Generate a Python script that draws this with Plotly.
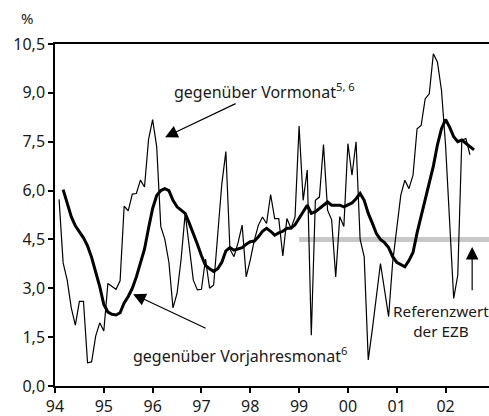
import plotly.graph_objects as go

# --- data -------------------------------------------------------------
# month-on-month change (annualised), monthly from Feb 1994
vormonat = [5.73, 3.78, 3.25, 2.4, 1.87, 2.6, 2.6, 0.71, 0.74, 1.53, 1.94,
            1.69, 3.15, 3.05, 2.97, 3.23, 5.52, 5.38, 5.89, 5.91, 6.32, 6.11, 7.57,
            8.18, 7.34, 4.9, 4.5, 3.8, 2.4, 2.84, 3.9, 5.3, 4.3, 3.25, 2.95,
            2.97, 3.9, 3.0, 3.1, 4.6, 6.2, 7.2, 4.2, 3.97, 4.4, 4.94, 3.35,
            3.87, 4.48, 4.94, 5.19, 4.99, 5.88, 5.14, 5.14, 3.99, 5.14, 4.84, 5.19,
            7.98, 5.7, 6.63, 1.56, 5.7, 5.8, 7.41, 5.4, 5.1, 3.35, 5.2, 4.9,
            7.44, 6.47, 7.5, 4.5, 3.97, 0.8, 1.74, 2.7, 3.76, 2.95, 2.13, 3.8,
            4.9, 5.86, 6.32, 6.06, 6.47, 7.9, 8.0, 8.82, 8.97, 10.2, 9.95, 9.08,
            7.4, 4.9, 2.69, 3.4, 7.55, 7.6, 7.1]
vormonat_start_month = 1  # months after Jan 1994

# change on the same month of the previous year, monthly from Mar 1994
vorjahr = [6.03, 5.6, 5.2, 4.92, 4.72, 4.55, 4.3, 3.95, 3.5, 3.05,
           2.5, 2.27, 2.2, 2.18, 2.25, 2.55, 2.75, 3.0, 3.35, 3.75, 4.2, 4.85,
           5.45, 5.85, 6.0, 6.06, 6.0, 5.7, 5.5, 5.4, 5.3, 5.0, 4.7, 4.35,
           4.0, 3.7, 3.6, 3.52, 3.6, 3.8, 4.15, 4.25, 4.17, 4.2, 4.25, 4.35,
           4.43, 4.45, 4.58, 4.75, 4.84, 4.75, 4.63, 4.7, 4.75, 4.84, 4.84, 4.95,
           5.15, 5.38, 5.55, 5.3, 5.35, 5.45, 5.55, 5.65, 5.55, 5.55, 5.55, 5.5,
           5.55, 5.62, 5.75, 5.91, 5.7, 5.3, 5.0, 4.68, 4.5, 4.4, 4.25, 3.97,
           3.8, 3.72, 3.66, 3.85, 4.1, 4.7, 5.2, 5.75, 6.25, 6.75, 7.4, 7.9,
           8.18, 7.95, 7.65, 7.5, 7.55, 7.45, 7.35, 7.25]
vorjahr_start_month = 2

# ECB reference value
referenzwert = 4.5
referenz_von = 1999.0
x_ende = 2002.89

year_ticks = [1994, 1995, 1996, 1997, 1998, 1999, 2000, 2001, 2002]
year_labels = ["94", "95", "96", "97", "98", "99", "00", "01", "02"]
y_ticks = [0, 1.5, 3.0, 4.5, 6.0, 7.5, 9.0, 10.5]
y_labels = ["0,0", "1,5", "3,0", "4,5", "6,0", "7,5", "9,0", "10,5"]

# ---------------------------------------------------------------------
def months_to_x(start, n):
    return [1994 + (start + i) / 12 for i in range(n)]

FONT = "Noto Sans"
TXT = "#1a1a1a"

fig = go.Figure()
fig.add_trace(go.Scatter(x=[referenz_von, x_ende], y=[referenzwert, referenzwert],
                         mode="lines", line=dict(color="#c8c8c8", width=5),
                         hoverinfo="skip"))
fig.add_trace(go.Scatter(x=months_to_x(vormonat_start_month, len(vormonat)), y=vormonat,
                         mode="lines", line=dict(color="black", width=1.2)))
fig.add_trace(go.Scatter(x=months_to_x(vorjahr_start_month, len(vorjahr)), y=vorjahr,
                         mode="lines", line=dict(color="black", width=3)))

arrow = dict(showarrow=True, arrowhead=2, arrowsize=2.1, arrowwidth=1.2,
             arrowcolor="black", axref="x", ayref="y", xref="x", yref="y",
             text="", standoff=0)
fig.add_annotation(x=1996.255, y=7.64, ax=1997.73, ay=8.69, **arrow)
fig.add_annotation(x=1995.6, y=2.82, ax=1997.117, ay=1.75, **arrow)
fig.add_annotation(x=2002.545, y=4.27, ax=2002.545, ay=2.89, **arrow)

fig.add_annotation(x=1996.40, y=9.06, xref="x", yref="y", xanchor="left", yanchor="middle",
                   text="gegenüber Vormonat<sup>5, 6</sup>", showarrow=False,
                   font=dict(family=FONT, size=16, color=TXT))
fig.add_annotation(x=1995.56, y=0.95, xref="x", yref="y", xanchor="left", yanchor="middle",
                   text="gegenüber Vorjahresmonat<sup>6</sup>", showarrow=False,
                   font=dict(family=FONT, size=16, color=TXT))
fig.add_annotation(x=2001.905, y=2.0, xref="x", yref="y", xanchor="center", yanchor="middle",
                   text="Referenzwert<br>der EZB", showarrow=False,
                   font=dict(family=FONT, size=15.3, color=TXT))
fig.add_annotation(x=-0.0645, y=1.076, xref="paper", yref="paper", text="%", showarrow=False,
                   xanchor="center", yanchor="middle",
                   font=dict(family=FONT, size=15, color=TXT))

fig.update_layout(
    width=489, height=416,
    margin=dict(l=55, r=0, t=44, b=30),
    paper_bgcolor="white", plot_bgcolor="white",
    showlegend=False,
    font=dict(family=FONT, size=16, color=TXT),
)
fig.update_xaxes(range=[1994, x_ende], tickvals=year_ticks, ticktext=year_labels,
                 showgrid=False, zeroline=False, showline=True, linecolor="black",
                 linewidth=1.5, mirror=True, ticks="outside", ticklen=5, tickwidth=1.5,
                 tickcolor="black", tickfont=dict(family=FONT, size=16, color=TXT))
fig.update_yaxes(range=[0, 10.5], tickvals=y_ticks, ticktext=y_labels,
                 showgrid=False, zeroline=False, showline=True, linecolor="black",
                 linewidth=1.5, ticks="outside", ticklen=5, tickwidth=1.5,
                 tickcolor="black", tickfont=dict(family=FONT, size=16, color=TXT))

fig.write_html("out.html", config={"displayModeBar": False})

# remove the browser's default page margin so the figure fills the window
with open("out.html", encoding="utf-8") as f:
    html = f.read()
html = html.replace("<head>", "<head><style>html,body{margin:0;padding:0;overflow:hidden;}</style>", 1)
with open("out.html", "w", encoding="utf-8") as f:
    f.write(html)
